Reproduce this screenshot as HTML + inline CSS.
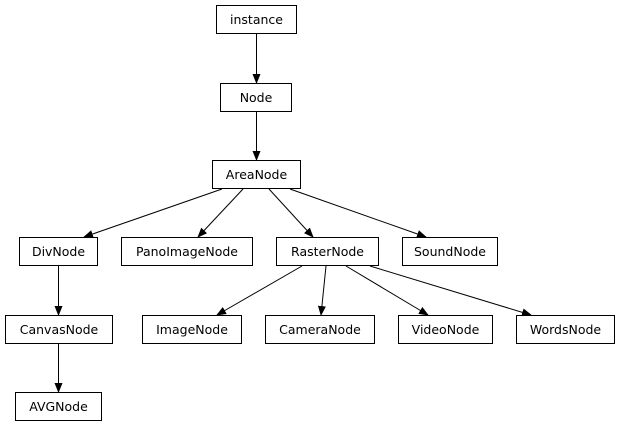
<!DOCTYPE html>
<html><head><style>body{margin:0;background:#fff}svg{display:block}text{font-family:"DejaVu Sans",sans-serif;font-size:12.5px;fill:#000}</style></head><body>
<svg width="620" height="427" viewBox="0 0 620 427">
<defs><marker id="a" markerWidth="10" markerHeight="8" refX="9" refY="4" orient="auto" markerUnits="userSpaceOnUse"><path d="M0,0L10,4L0,8z" fill="#000"/></marker></defs>
<g fill="#fff" stroke="#000" stroke-width="1">
<rect x="216.5" y="5.5" width="80" height="28"/>
<rect x="220.5" y="83.5" width="71" height="28"/>
<rect x="212.5" y="160.5" width="88" height="28"/>
<rect x="19.5" y="237.5" width="78" height="28"/>
<rect x="121.5" y="237.5" width="131" height="28"/>
<rect x="276.5" y="237.5" width="102" height="28"/>
<rect x="402.5" y="237.5" width="95" height="28"/>
<rect x="5.5" y="315.5" width="107" height="28"/>
<rect x="142.5" y="315.5" width="99" height="28"/>
<rect x="265.5" y="315.5" width="109" height="28"/>
<rect x="398.5" y="315.5" width="94" height="28"/>
<rect x="516.5" y="315.5" width="98" height="28"/>
<rect x="15.5" y="392.5" width="86" height="28"/>
</g>
<g stroke="#000" stroke-width="1" marker-end="url(#a)">
<line x1="256.5" y1="34" x2="256.5" y2="83"/>
<line x1="256.5" y1="112" x2="256.5" y2="160"/>
<line x1="222" y1="189" x2="84" y2="237"/>
<line x1="243" y1="189" x2="198" y2="237"/>
<line x1="269" y1="189" x2="313" y2="237"/>
<line x1="290" y1="189" x2="426" y2="237"/>
<line x1="58.5" y1="266" x2="58.5" y2="315"/>
<line x1="58.5" y1="344" x2="58.5" y2="392"/>
<line x1="302" y1="266" x2="217" y2="315"/>
<line x1="326" y1="266" x2="321" y2="315"/>
<line x1="346" y1="266" x2="428" y2="315"/>
<line x1="370" y1="266" x2="531" y2="315"/>
</g>
<g text-anchor="middle">
<text x="256.5" y="24">instance</text>
<text x="256" y="102">Node</text>
<text x="256.5" y="179">AreaNode</text>
<text x="58.5" y="256">DivNode</text>
<text x="187" y="256">PanoImageNode</text>
<text x="327.5" y="256">RasterNode</text>
<text x="450" y="256">SoundNode</text>
<text x="59" y="334">CanvasNode</text>
<text x="192" y="334">ImageNode</text>
<text x="320" y="334">CameraNode</text>
<text x="445.5" y="334">VideoNode</text>
<text x="565.5" y="334">WordsNode</text>
<text x="58.5" y="411">AVGNode</text>
</g>
</svg>
</body></html>
